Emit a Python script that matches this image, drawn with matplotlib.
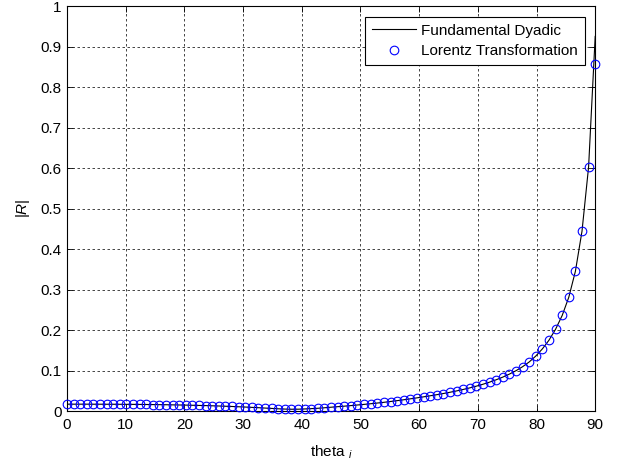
import numpy as np
import matplotlib
matplotlib.use("Agg")
import matplotlib.pyplot as plt

plt.rcParams['font.family'] = ['Liberation Sans', 'DejaVu Sans']
plt.rcParams['mathtext.fontset'] = 'custom'
plt.rcParams['mathtext.rm'] = 'Liberation Sans'
plt.rcParams['mathtext.it'] = 'Liberation Sans:italic'

# incidence angle (deg), 81 samples from 0 to 90
theta = np.linspace(0, 90, 81)

# |R| (Lorentz transformation markers)
R_lorentz = [
    0.0170, 0.0170, 0.0170, 0.0170, 0.0169, 0.0169, 0.0168, 0.0168, 0.0167, 0.0166,
    0.0165, 0.0164, 0.0162, 0.0160, 0.0158, 0.0156, 0.0153, 0.0150, 0.0147, 0.0143,
    0.0139, 0.0135, 0.0130, 0.0125, 0.0119, 0.0113, 0.0106, 0.0099, 0.0091, 0.0083,
    0.0074, 0.0065, 0.0056, 0.0049, 0.0045, 0.0046, 0.0052, 0.0060, 0.0069, 0.0081,
    0.0095, 0.0108, 0.0121, 0.0135, 0.0150, 0.0165, 0.0181, 0.0198, 0.0216, 0.0236,
    0.0257, 0.0279, 0.0302, 0.0326, 0.0351, 0.0377, 0.0404, 0.0433, 0.0464, 0.0497,
    0.0533, 0.0572, 0.0615, 0.0662, 0.0714, 0.0772, 0.0838, 0.0912, 0.0996, 0.1095,
    0.1212, 0.1358, 0.1535, 0.1750, 0.2020, 0.2360, 0.2810, 0.3450, 0.4440, 0.6030,
    0.8580,
]

# fundamental dyadic curve: same samples, end point resolved closer to grazing
R_dyadic = list(R_lorentz[:-1]) + [0.925]

xticks = list(range(0, 91, 10))
yticks = [round(0.1 * k, 1) for k in range(11)]
ytick_labels = ['0', '0.1', '0.2', '0.3', '0.4', '0.5', '0.6', '0.7', '0.8', '0.9', '1']

fig = plt.figure(figsize=(6.2, 4.65), dpi=100)
ax = fig.add_axes([0.108, 0.116, 0.852, 0.871])

ax.plot(theta, R_dyadic, color='black', linewidth=0.8, label='Fundamental Dyadic', zorder=3)
ax.plot(theta, R_lorentz, linestyle='none', marker='o', markersize=6.2,
        markerfacecolor='none', markeredgecolor='blue', markeredgewidth=0.8,
        label='Lorentz Transformation', zorder=4, clip_on=False)

ax.set_xlim(0, 90)
ax.set_ylim(0, 1)
ax.set_xticks(xticks)
ax.set_yticks(yticks)
ax.set_yticklabels(ytick_labels)
ax.tick_params(direction='in', length=4, width=0.6, top=True, right=True, labelsize=11)
ax.tick_params(axis='x', pad=5)
ax.tick_params(axis='y', pad=4)
for s in ax.spines.values():
    s.set_linewidth(0.8)

ax.grid(True, color='0.15', linestyle=(0, (3, 3)), linewidth=0.6)
ax.set_axisbelow(True)

ax.set_xlabel('theta $_i$', fontsize=11, labelpad=8)
ax.set_ylabel('$|R|$', fontsize=11, labelpad=6)

leg = ax.legend(loc='upper right', fontsize=11, fancybox=False, framealpha=1,
                edgecolor='black', borderaxespad=0.7, handlelength=2.9,
                borderpad=0.45, labelspacing=0.45, handletextpad=0.3)
leg.get_frame().set_linewidth(0.8)

fig.savefig('out.png', dpi=100)
